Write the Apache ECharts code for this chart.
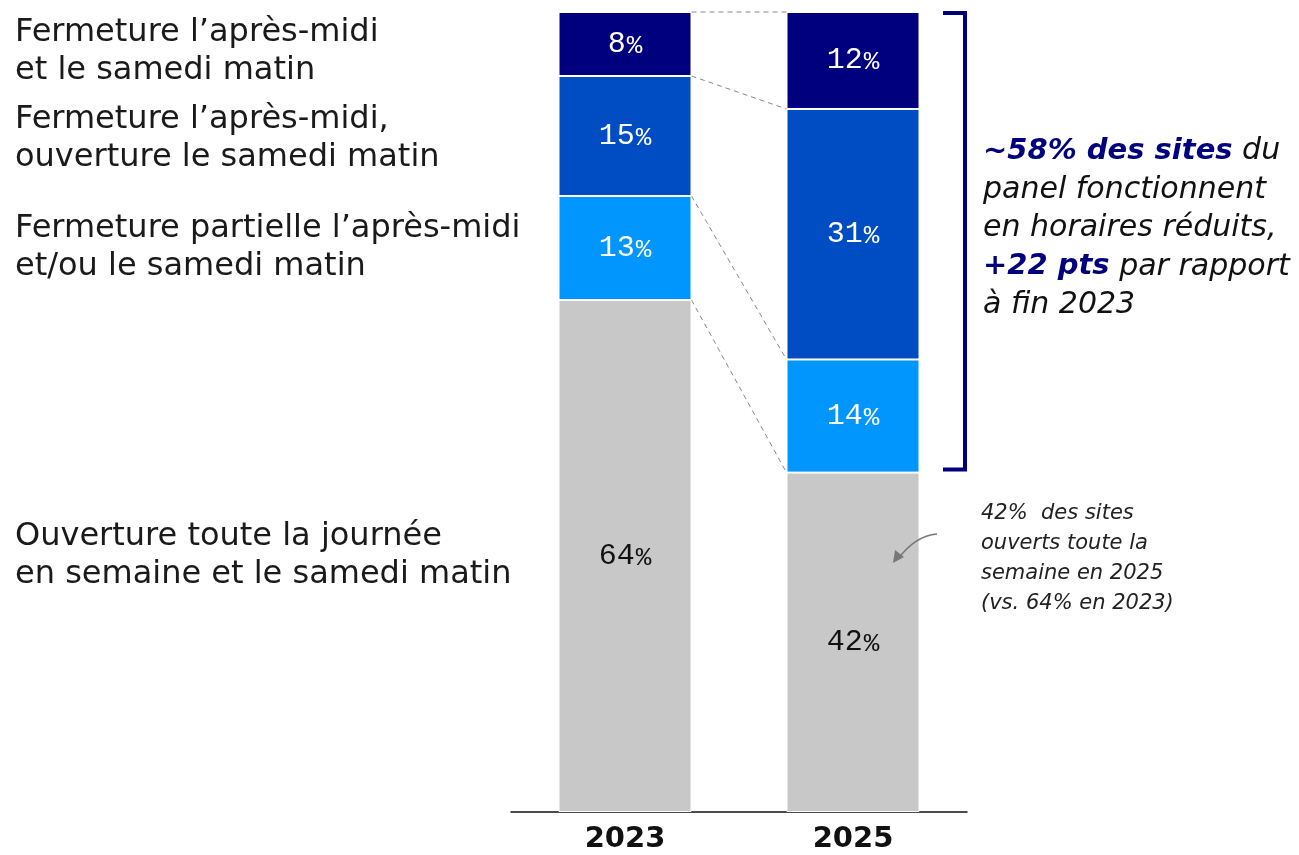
<!DOCTYPE html>
<html>
<head>
<meta charset="utf-8">
<script src="https://cdn.jsdelivr.net/npm/echarts@6/dist/echarts.min.js"></script>
<style>
html,body{margin:0;padding:0;background:#fff;}
#chart{width:1299px;height:855px;}
</style>
</head>
<body>
<div id="chart"></div>
<script>
// ---- DATA ----
const categories = ['2023', '2025'];
const segmentNames = [
  'Ouverture toute la journée\nen semaine et le samedi matin',
  'Fermeture partielle l\u2019après-midi\net/ou le samedi matin',
  'Fermeture l\u2019après-midi,\nouverture le samedi matin',
  'Fermeture l\u2019après-midi\net le samedi matin'
];
const openAllDay = [64, 42];        // gris
const partialClosing = [13, 14];    // bleu clair
const closedAfternoon = [15, 31];   // bleu
const closedAfternoonSat = [8, 12]; // bleu nuit
const bracketText = ['{b|~58% des sites} du', 'panel fonctionnent', 'en horaires réduits,', '{b|+22 pts} par rapport', 'à fin 2023'];
const noteText = ['42%  des sites', 'ouverts toute la', 'semaine en 2025', '(vs. 64% en 2023)'];

// ---- BUILD ----
const seriesValues = [openAllDay, partialClosing, closedAfternoon, closedAfternoonSat];
const colors = ['#c8c8c8', '#0096fe', '#004dc3', '#00007f'];
const labelColors = ['#111', '#fff', '#fff', '#fff'];
const totals = categories.map((c, i) => seriesValues.reduce((s, arr) => s + arr[i], 0));
const norm = seriesValues.map(arr => arr.map((v, i) => v / totals[i] * 100));
const cum = [];
seriesValues.forEach((arr, k) => {
  cum.push(categories.map((c, i) => norm.slice(0, k + 1).reduce((s, a) => s + a[i], 0)));
});
const BAR_W = 133;
const SANS = 'DejaVu Sans';

const chart = echarts.init(document.getElementById('chart'));
const series = seriesValues.map((arr, k) => ({
  type: 'bar',
  stack: 'total',
  barWidth: BAR_W,
  name: segmentNames[k],
  itemStyle: { color: colors[k], borderColor: '#fff', borderWidth: 1 },
  data: arr.map((v, i) => ({ value: norm[k][i], raw: v })),
  label: {
    show: true,
    position: 'inside',
    formatter: p => '{n|' + p.data.raw + '}{p|%}',
    rich: {
      n: { fontFamily: 'Liberation Mono', fontSize: 30, color: labelColors[k], verticalAlign: 'bottom', lineHeight: 30 },
      p: { fontFamily: 'Liberation Mono', fontSize: 26, color: labelColors[k], verticalAlign: 'bottom', lineHeight: 30, padding: [0, 0, 0, 1] }
    }
  },
  silent: true
}));
series.push({
  type: 'custom',
  data: cum.map(b => [b[0], b[1]]),
  silent: true,
  z: 1,
  renderItem: (params, api) => {
    const p1 = api.coord([0, api.value(0)]);
    const p2 = api.coord([1, api.value(1)]);
    return {
      type: 'line',
      shape: { x1: p1[0] + BAR_W / 2, y1: p1[1], x2: p2[0] - BAR_W / 2, y2: p2[1] },
      style: { stroke: '#888', lineWidth: 1, lineDash: [5, 4] }
    };
  }
});

chart.setOption({
  animation: false,
  grid: { left: 511, right: 332, top: 12, bottom: 43 },
  xAxis: {
    type: 'category',
    data: categories,
    axisTick: { show: false },
    axisLine: { lineStyle: { color: '#111', width: 1.5 } },
    axisLabel: { fontFamily: 'DejaVu Sans', fontWeight: 'bold', fontSize: 29, color: '#111', margin: 13 }
  },
  yAxis: { type: 'value', min: 0, max: 100, show: false },
  series: series
});

// ---- annotations anchored on the chart scales ----
const px = (ci, v) => chart.convertToPixel({ gridIndex: 0 }, [ci, v]);
const graphics = [];
const labelOffsets = [0, 0, 3, 8];
segmentNames.forEach((name, k) => {
  const lo = k === 0 ? 0 : cum[k - 1][0];
  const mid = (lo + cum[k][0]) / 2;
  const y = px(0, mid)[1] + labelOffsets[k];
  graphics.push({
    type: 'text', left: 15, top: y - 38, z: 100,
    style: { text: name, fontFamily: SANS, fontSize: 32, lineHeight: 38, fill: '#1a1a1a' }
  });
});
const topP = px(1, 100), botP = px(1, cum[0][1]);
const bx = topP[0] + 112;
graphics.push({
  type: 'polyline', z: 100,
  shape: { points: [[bx - 22, topP[1] + 1], [bx, topP[1] + 1], [bx, botP[1] - 3], [bx - 22, botP[1] - 3]] },
  style: { stroke: '#00007f', lineWidth: 4, fill: null }
});
graphics.push({
  type: 'text', left: bx + 18, top: 132, z: 100,
  style: {
    text: bracketText.join('\n'),
    fontFamily: SANS, fontStyle: 'italic', fontSize: 30, lineHeight: 38.5, fill: '#111',
    rich: { b: { fontFamily: SANS, fontStyle: 'italic', fontWeight: 'bold', fontSize: 29, lineHeight: 38.5, fill: '#00007f', color: '#00007f' } }
  }
});
const grayMid = px(1, cum[0][1] / 2);
graphics.push({
  type: 'text', left: bx + 16, top: 499, z: 100,
  style: { text: noteText.join('\n'), fontFamily: SANS, fontStyle: 'italic', fontSize: 21, lineHeight: 30, fill: '#222' }
});
const ax = grayMid[0] + 40, ay = 563;
graphics.push({
  type: 'bezierCurve', z: 100,
  shape: { x1: ax + 44, y1: 534, cpx1: ax + 22, cpy1: 536, x2: ax + 5, y2: ay - 4 },
  style: { stroke: '#777', lineWidth: 1.5, fill: null }
});
graphics.push({
  type: 'polygon', z: 100,
  shape: { points: [[ax, ay], [ax + 2, ay - 13], [ax + 11, ay - 6]] },
  style: { fill: '#777' }
});
chart.setOption({ graphic: graphics });
</script>
</body>
</html>
